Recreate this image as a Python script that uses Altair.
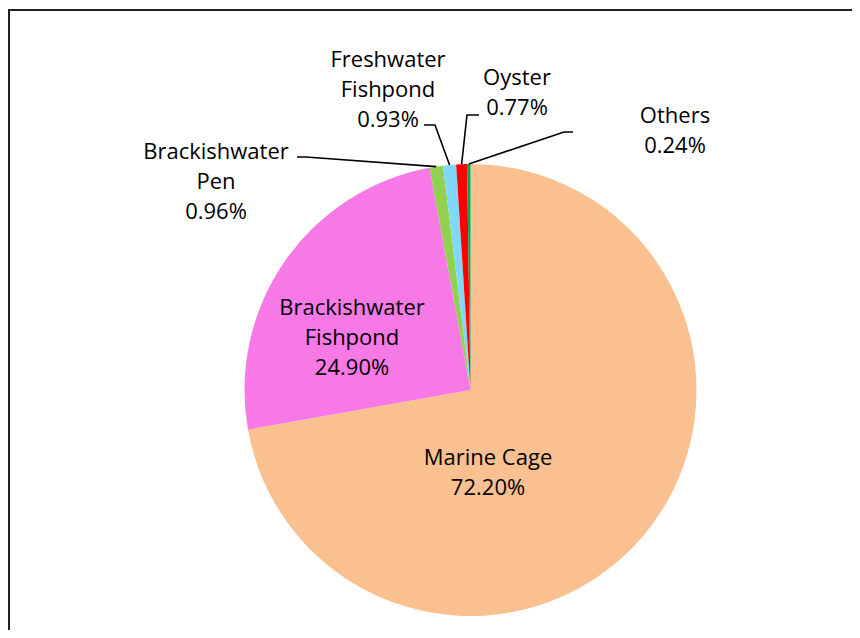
import altair as alt
import pandas as pd

# ---- data ----
categories = ["Marine Cage", "Brackishwater Fishpond", "Brackishwater Pen",
              "Freshwater Fishpond", "Oyster", "Others"]
shares = [72.20, 24.90, 0.96, 0.93, 0.77, 0.24]
label_names = ["Marine Cage", "Brackishwater\nFishpond", "Brackishwater\nPen",
               "Freshwater\nFishpond", "Oyster", "Others"]
colors = ["#FAC090", "#F779E6", "#92D050", "#7FD8FA", "#FF0000", "#00A650"]

# ---- layout (chart pixel coordinates) ----
W, H = 844, 622
CX, CY, R = 462.5, 382.0, 226
M = 8  # page margin
# first-line centre of each label (page coords)
label_first = {
    "Marine Cage": (488, 458),
    "Brackishwater Fishpond": (352, 308),
    "Brackishwater Pen": (216, 152),
    "Freshwater Fishpond": (388, 60),
    "Oyster": (517, 78),
    "Others": (675, 116),
}
# leader line start and elbow (page coords)
leader_start = {
    "Brackishwater Pen": ((297, 157), (306, 157)),
    "Freshwater Fishpond": ((424, 125), (435, 125)),
    "Oyster": ((479, 115), (467, 115)),
    "Others": ((573, 132), (564, 132)),
}

FONT = "Open Sans"
FS = 22

slices = pd.DataFrame({
    "category": categories,
    "value": shares,
    "idx": list(range(len(categories))),
})

color_scale = alt.Scale(domain=categories, range=colors)

pie = alt.Chart(slices).mark_arc(radius=R, stroke=None).encode(
    theta=alt.Theta("value:Q", stack=True),
    color=alt.Color("category:N", scale=color_scale, legend=None),
    order=alt.Order("idx:Q", sort="ascending"),
    x=alt.value(CX),
    y=alt.value(CY),
)

# labels
lab = slices.copy()
lab["text"] = [f"{n}\n{v:.2f}%" for n, v in zip(label_names, shares)]
lab["lx"] = [label_first[c][0] - M for c in categories]
lab["ly"] = [label_first[c][1] - M for c in categories]

labels = alt.Chart(lab).mark_text(
    font=FONT, fontSize=FS, lineBreak="\n", lineHeight=30,
    align="center", baseline="middle", color="#000000",
).encode(
    x=alt.X("lx:Q", scale=None, axis=None),
    y=alt.Y("ly:Q", scale=None, axis=None),
    text="text:N",
)

# leader lines: start/elbow from layout, end on slice edge computed from data
ld = slices.copy()
ld["lx0"] = [leader_start[c][0][0] - M if c in leader_start else None for c in categories]
ld["ly0"] = [leader_start[c][0][1] - M if c in leader_start else None for c in categories]
ld["lx1"] = [leader_start[c][1][0] - M if c in leader_start else None for c in categories]
ld["ly1"] = [leader_start[c][1][1] - M if c in leader_start else None for c in categories]

leaders = alt.Chart(ld).transform_window(
    cum="sum(value)", sort=[alt.SortField("idx")]
).transform_joinaggregate(
    total="sum(value)"
).transform_calculate(
    mid="(datum.cum - datum.value/2)/datum.total*2*PI"
).transform_calculate(
    ex=f"{CX} + {R}*sin(datum.mid)",
    ey=f"{CY} - {R}*cos(datum.mid)",
).transform_filter(
    "isValid(datum.lx0)"
).transform_calculate(
    px="[datum.lx0, datum.lx1, datum.ex]",
    py="[datum.ly0, datum.ly1, datum.ey]",
    k="[0, 1, 2]",
).transform_flatten(
    ["px", "py", "k"]
).mark_line(color="#000000", strokeWidth=1.6).encode(
    x=alt.X("px:Q", scale=None, axis=None),
    y=alt.Y("py:Q", scale=None, axis=None),
    detail="category:N",
    order="k:Q",
)

frame_src = alt.Data(values=[{"a": 1}])
top_rule = alt.Chart(frame_src).mark_rule(color="#222222", strokeWidth=2).encode(
    x=alt.value(0), x2=alt.value(W), y=alt.value(2)
)
left_rule = alt.Chart(frame_src).mark_rule(color="#222222", strokeWidth=2).encode(
    x=alt.value(1), y=alt.value(2), y2=alt.value(H)
)

chart = alt.layer(pie, leaders, labels, top_rule, left_rule).properties(
    width=W, height=H, padding=0, autosize=alt.AutoSizeParams(type="none"),
    background="white",
).configure_view(stroke=None)

chart.save("out.html", embed_options={"renderer": "svg", "actions": False})
